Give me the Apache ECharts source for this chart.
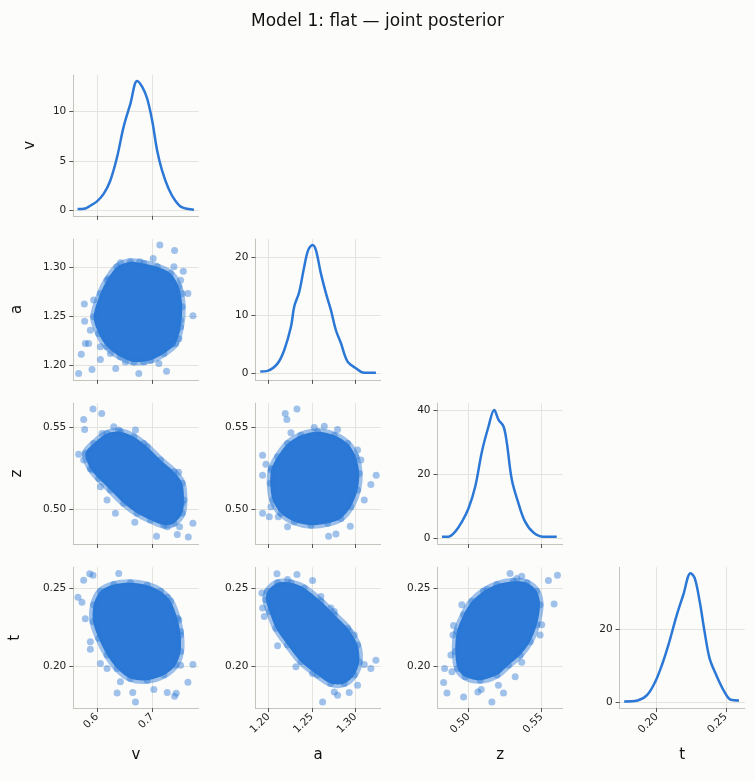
<!DOCTYPE html>
<html>
<head>
<meta charset="utf-8">
<script src="https://cdn.jsdelivr.net/npm/echarts@6/dist/echarts.min.js"></script>
<style>
  html, body { margin: 0; background: #fcfcfa; }
  #chart { width: 755px; height: 781px; }
</style>
</head>
<body>
<div id="chart"></div>
<script>
// 变量名 / 轴范围 / 刻度
const varNames = ['v', 'a', 'z', 't']
const vRange = [0.557, 0.784]
const aRange = [1.185, 1.329]
const zRange = [0.4787, 0.5646]
const tRange = [0.1732, 0.2637]
const vTicks = [0.6, 0.7]
const aTicks = [1.20, 1.25, 1.30]
const zTicks = [0.50, 0.55]
const tTicks = [0.20, 0.25]

// 对角线密度轴
const vDensRange = [-0.54, 13.7]
const aDensRange = [-1.15, 23.1]
const zDensRange = [-1.9, 42.2]
const tDensRange = [-1.73, 36.9]
const vDensTicks = [0, 5, 10]
const aDensTicks = [0, 10, 20]
const zDensTicks = [0, 20, 40]
const tDensTicks = [0, 20]

// KDE 曲线 [x, density]
const vKde = [[0.5647, 0.14], [0.5787, 0.2], [0.5878, 0.48], [0.600, 0.92], [0.612, 1.67], [0.624, 3.0],
  [0.6364, 5.4], [0.648, 8.4], [0.6606, 10.8], [0.6727, 13.1], [0.682, 12.5], [0.691, 11.3], [0.700, 9.1],
  [0.709, 6.07], [0.718, 4.03], [0.730, 2.17], [0.742, 0.99], [0.7545, 0.3], [0.7757, 0.07]]
const aKde = [[1.1906, 0.28], [1.199, 0.4], [1.2106, 1.7], [1.2182, 4.0], [1.2259, 8.0], [1.2297, 11.5],
  [1.2354, 14.0], [1.2411, 18.3], [1.2457, 21.2], [1.2508, 22.1], [1.2546, 21.2], [1.2603, 17.2],
  [1.2661, 13.8], [1.2718, 10.9], [1.2776, 7.4], [1.2833, 5.2], [1.291, 2.0], [1.3006, 0.86],
  [1.3101, 0.1], [1.3236, 0.1]]
const zKde = [[0.4818, 0.4], [0.4863, 0.4], [0.4909, 2.0], [0.4955, 5.1], [0.500, 9.3], [0.5046, 16.1],
  [0.5092, 27.1], [0.5137, 34.9], [0.5176, 40.1], [0.5206, 37.0], [0.524, 34.9], [0.5263, 29.7],
  [0.5297, 18.2], [0.5342, 10.9], [0.5388, 5.1], [0.5445, 1.7], [0.5514, 0.4], [0.5605, 0.4]]
const tKde = [[0.1765, 0.1], [0.1861, 0.36], [0.1932, 1.9], [0.1991, 5.6], [0.2038, 10.1], [0.2085, 15.6],
  [0.2145, 23.8], [0.2192, 29.3], [0.2245, 35.3], [0.2275, 33.9], [0.2311, 27.5], [0.2346, 19.3],
  [0.2382, 12.0], [0.243, 7.4], [0.2489, 2.8], [0.2536, 0.55], [0.2595, 0.36]]

// 散点：密集核心轮廓 + 边缘散点
const vaCore = [[0.6061, 1.2734], [0.6182, 1.2870], [0.6364, 1.3007], [0.6606, 1.3058], [0.6848, 1.3041],
  [0.7091, 1.3007], [0.7333, 1.2939], [0.7485, 1.2802], [0.7545, 1.2597], [0.7515, 1.2393], [0.7424, 1.2222],
  [0.7212, 1.2120], [0.6970, 1.2052], [0.6667, 1.2034], [0.6424, 1.2086], [0.6182, 1.2188], [0.6030, 1.2324],
  [0.5939, 1.2495]]
const vaDots = [[0.7139, 1.3229], [0.7406, 1.3174], [0.7018, 1.3092], [0.7564, 1.2962], [0.7648, 1.2734],
  [0.7739, 1.2505], [0.7485, 1.2270], [0.7364, 1.2215], [0.7261, 1.1939], [0.7121, 1.2017], [0.6758, 1.1915],
  [0.6339, 1.1966], [0.6061, 1.2058], [0.5909, 1.1956], [0.5715, 1.2113], [0.5667, 1.1915], [0.5788, 1.2222],
  [0.5776, 1.2451], [0.5770, 1.2625], [0.5939, 1.2666], [0.6212, 1.2887], [0.6424, 1.3048], [0.6776, 1.3058],
  [0.7394, 1.3007], [0.7515, 1.2870], [0.7545, 1.2734], [0.7515, 1.2461], [0.7455, 1.2359], [0.5879, 1.2359],
  [0.5848, 1.2222], [0.6061, 1.2188], [0.6242, 1.2120], [0.6515, 1.2034], [0.6848, 1.2034], [0.6970, 1.2120],
  [0.7182, 1.2154]]

const vzCore = [[0.5788, 0.5339], [0.5939, 0.5400], [0.6182, 0.5461], [0.6424, 0.5472], [0.6667, 0.5441],
  [0.6909, 0.5380], [0.7152, 0.5299], [0.7394, 0.5228], [0.7545, 0.5157], [0.7576, 0.5055], [0.7545, 0.4974],
  [0.7394, 0.4913], [0.7212, 0.4902], [0.6970, 0.4933], [0.6727, 0.4974], [0.6485, 0.5035], [0.6242, 0.5116],
  [0.6030, 0.5187], [0.5879, 0.5248]]
const vzDots = [[0.5927, 0.5610], [0.5758, 0.5547], [0.6085, 0.5583], [0.5776, 0.5486], [0.5667, 0.5335],
  [0.5758, 0.5299], [0.5909, 0.5242], [0.6091, 0.5461], [0.6303, 0.5502], [0.6394, 0.5482], [0.6697, 0.5482],
  [0.6848, 0.5400], [0.7479, 0.5224], [0.7497, 0.5126], [0.6333, 0.4974], [0.6685, 0.4919], [0.7079, 0.4835],
  [0.7455, 0.4845], [0.7655, 0.4829], [0.7739, 0.4913], [0.7497, 0.4892], [0.7273, 0.4892], [0.7545, 0.5035],
  [0.6182, 0.5055], [0.6061, 0.5136], [0.7394, 0.5177]]

const azCore = [[1.2105, 0.5319], [1.2220, 0.5400], [1.2374, 0.5451], [1.2565, 0.5472], [1.2757, 0.5451],
  [1.2910, 0.5400], [1.3006, 0.5319], [1.3044, 0.5217], [1.3025, 0.5116], [1.2948, 0.5014], [1.2833, 0.4943],
  [1.2680, 0.4913], [1.2489, 0.4902], [1.2297, 0.4923], [1.2144, 0.4974], [1.2048, 0.5055], [1.2021, 0.5157],
  [1.2036, 0.5248]]
const azDots = [[1.2328, 0.5610], [1.2193, 0.5583], [1.2212, 0.5547], [1.1933, 0.5329], [1.1971, 0.5274],
  [1.2029, 0.5238], [1.1933, 0.5207], [1.1933, 0.4974], [1.2029, 0.5014], [1.2010, 0.4953], [1.2113, 0.4953],
  [1.2220, 0.4892], [1.2692, 0.4835], [1.2776, 0.4848], [1.2941, 0.4896], [1.3102, 0.5055], [1.3178, 0.5150],
  [1.3239, 0.5207], [1.3063, 0.5299], [1.3025, 0.5360], [1.2795, 0.5486], [1.2642, 0.5506], [1.2527, 0.5498],
  [1.2259, 0.5465]]

const vtCore = [[0.5939, 0.2397], [0.6061, 0.2483], [0.6303, 0.2526], [0.6606, 0.2537], [0.6909, 0.2522],
  [0.7152, 0.2483], [0.7333, 0.2418], [0.7455, 0.2310], [0.7515, 0.2202], [0.7515, 0.2095], [0.7424, 0.2008],
  [0.7212, 0.1944], [0.6909, 0.1911], [0.6606, 0.1922], [0.6364, 0.1987], [0.6182, 0.2073], [0.6030, 0.2181],
  [0.5927, 0.2289]]
const vtDots = [[0.5867, 0.2595], [0.5927, 0.2586], [0.5758, 0.2554], [0.5655, 0.2444], [0.5727, 0.2412],
  [0.5788, 0.2306], [0.5879, 0.2159], [0.5879, 0.2110], [0.6061, 0.2019], [0.6394, 0.2597], [0.6364, 0.1829],
  [0.6648, 0.1832], [0.6697, 0.1771], [0.7030, 0.1851], [0.7273, 0.1832], [0.7406, 0.1808], [0.7436, 0.1827],
  [0.7648, 0.1898], [0.7739, 0.2013], [0.7515, 0.2008], [0.7515, 0.2224], [0.7485, 0.2299], [0.7273, 0.2444],
  [0.6424, 0.1901], [0.6182, 0.1987]]

const atCore = [[1.1990, 0.2483], [1.2105, 0.2537], [1.2259, 0.2537], [1.2412, 0.2504], [1.2603, 0.2418],
  [1.2757, 0.2332], [1.2910, 0.2246], [1.3025, 0.2138], [1.3044, 0.2030], [1.2987, 0.1944], [1.2872, 0.1890],
  [1.2718, 0.1890], [1.2565, 0.1944], [1.2374, 0.2030], [1.2220, 0.2138], [1.2086, 0.2246], [1.2010, 0.2353],
  [1.1971, 0.2429]]
const atDots = [[1.2098, 0.2595], [1.2328, 0.2591], [1.2220, 0.2558], [1.2508, 0.2552], [1.1925, 0.2472],
  [1.1933, 0.2375], [1.1952, 0.2321], [1.2105, 0.2133], [1.2316, 0.1998], [1.2508, 0.1955], [1.2623, 0.1771],
  [1.2757, 0.1836], [1.2795, 0.1814], [1.2929, 0.1832], [1.3025, 0.1879], [1.3102, 0.2013], [1.3178, 0.1987],
  [1.3236, 0.2039], [1.2987, 0.2202], [1.2929, 0.2224], [1.2603, 0.2450], [1.2718, 0.2375], [1.2757, 0.2353]]

const ztCore = [[0.4920, 0.2224], [0.4966, 0.2332], [0.5023, 0.2418], [0.5103, 0.2483], [0.5194, 0.2526],
  [0.5308, 0.2547], [0.5400, 0.2537], [0.5468, 0.2483], [0.5491, 0.2397], [0.5468, 0.2267], [0.5422, 0.2159],
  [0.5354, 0.2073], [0.5274, 0.2008], [0.5194, 0.1944], [0.5080, 0.1911], [0.4977, 0.1933], [0.4925, 0.1987],
  [0.4909, 0.2095]]
const ztDots = [[0.5285, 0.2597], [0.5331, 0.2565], [0.5365, 0.2580], [0.5548, 0.2552], [0.5610, 0.2586],
  [0.5587, 0.2401], [0.5502, 0.2267], [0.5491, 0.2202], [0.5400, 0.2321], [0.4897, 0.2263], [0.4893, 0.2202],
  [0.4879, 0.2073], [0.4836, 0.1987], [0.4829, 0.1896], [0.4852, 0.1829], [0.4886, 0.1966], [0.4966, 0.1804],
  [0.5064, 0.1836], [0.5087, 0.1851], [0.5160, 0.1771], [0.5205, 0.1879], [0.5240, 0.1829], [0.5320, 0.1933],
  [0.5365, 0.2026], [0.5126, 0.2494], [0.4954, 0.2397]]

const ranges = { v: vRange, a: aRange, z: zRange, t: tRange }
const ticks = { v: vTicks, a: aTicks, z: zTicks, t: tTicks }
const densRanges = { v: vDensRange, a: aDensRange, z: zDensRange, t: tDensRange }
const densTicks = { v: vDensTicks, a: aDensTicks, z: zDensTicks, t: tDensTicks }
const kdes = { v: vKde, a: aKde, z: zKde, t: tKde }
const cores = { va: vaCore, vz: vzCore, az: azCore, vt: vtCore, at: atCore, zt: ztCore }
const dots = { va: vaDots, vz: vzDots, az: azDots, vt: vtDots, at: atDots, zt: ztDots }

const FONT = 'DejaVu Sans'
const BLUE = '#2b78d6'
const SPINE = '#c4c4bc'
const GRIDC = '#e4e3dd'
// y 轴名称与轴线的距离
const yNameGap = { v: 36, a: 49, z: 49, t: 51 }

function fmtFor (name) {
  if (name === 'v') return val => val.toFixed(1)
  return val => val.toFixed(2)
}

function makeAxis (range, tickVals, fmt, showLabel, rotate, name, nameGap) {
  return {
    type: 'value',
    min: range[0],
    max: range[1],
    name: name,
    nameLocation: 'middle',
    nameGap: nameGap,
    nameTextStyle: { fontFamily: FONT, fontSize: 15, color: '#111' },
    axisLine: { show: true, onZero: false, lineStyle: { color: SPINE, width: 1 } },
    axisTick: { show: true, inside: false, length: 4, customValues: tickVals, lineStyle: { color: '#555', width: 1 } },
    axisLabel: {
      show: showLabel,
      customValues: tickVals,
      formatter: fmt,
      rotate: rotate,
      margin: 7,
      fontFamily: FONT,
      fontSize: 10.5,
      color: '#222'
    },
    splitLine: { show: true, lineStyle: { color: GRIDC, width: 1 } }
  }
}

let grids = [], xAxes = [], yAxes = [], series = []
let k = 0
for (let r = 0; r < 4; r++) {
  for (let c = 0; c <= r; c++) {
    const xv = varNames[c]
    const yv = varNames[r]
    grids.push({ left: 73.3 + c * 182.1, top: 75 + r * 164.1, width: 125.2, height: 140.8 })
    xAxes.push(Object.assign(makeAxis(ranges[xv], ticks[xv], fmtFor(xv), r === 3, 45,
      r === 3 ? xv : '', 40), { gridIndex: k }))
    if (r === c) {
      const ya = makeAxis(densRanges[xv], densTicks[xv], val => String(val), true, 0,
        c === 0 ? yv : '', yNameGap[yv])
      ya.gridIndex = k
      yAxes.push(ya)
      series.push({
        type: 'line', xAxisIndex: k, yAxisIndex: k,
        data: kdes[xv], smooth: 0.35, symbol: 'none', silent: true,
        lineStyle: { color: BLUE, width: 2.5 }
      })
    } else {
      const ya = makeAxis(ranges[yv], ticks[yv], fmtFor(yv), true, 0,
        c === 0 ? yv : '', yNameGap[yv])
      ya.gridIndex = k
      yAxes.push(ya)
      const key = xv + yv
      const core = cores[key]
      // 密集区域用多边形填充，外圈半透明描边模拟散点边缘
      series.push({
        type: 'custom', xAxisIndex: k, yAxisIndex: k, silent: true,
        data: [core[0]],
        renderItem: function (params, api) {
          return {
            type: 'polygon',
            shape: { points: core.map(p => api.coord(p)), smooth: 0.3 },
            style: { fill: BLUE, stroke: 'rgba(43,120,214,0.45)', lineWidth: 7 }
          }
        }
      })
      series.push({
        type: 'scatter', xAxisIndex: k, yAxisIndex: k, silent: true,
        data: core.concat(dots[key]), symbolSize: 7,
        itemStyle: { color: 'rgba(43,120,214,0.55)' }
      })
    }
    k++
  }
}

let mychart = echarts.init(document.getElementById('chart'))
mychart.setOption({
  backgroundColor: '#fcfcfa',
  animation: false,
  title: {
    text: 'Model 1: flat — joint posterior',
    left: 'center',
    top: 8,
    textStyle: { fontFamily: FONT, fontSize: 17, fontWeight: 'normal', color: '#111' }
  },
  grid: grids,
  xAxis: xAxes,
  yAxis: yAxes,
  series: series
})
</script>
</body>
</html>
